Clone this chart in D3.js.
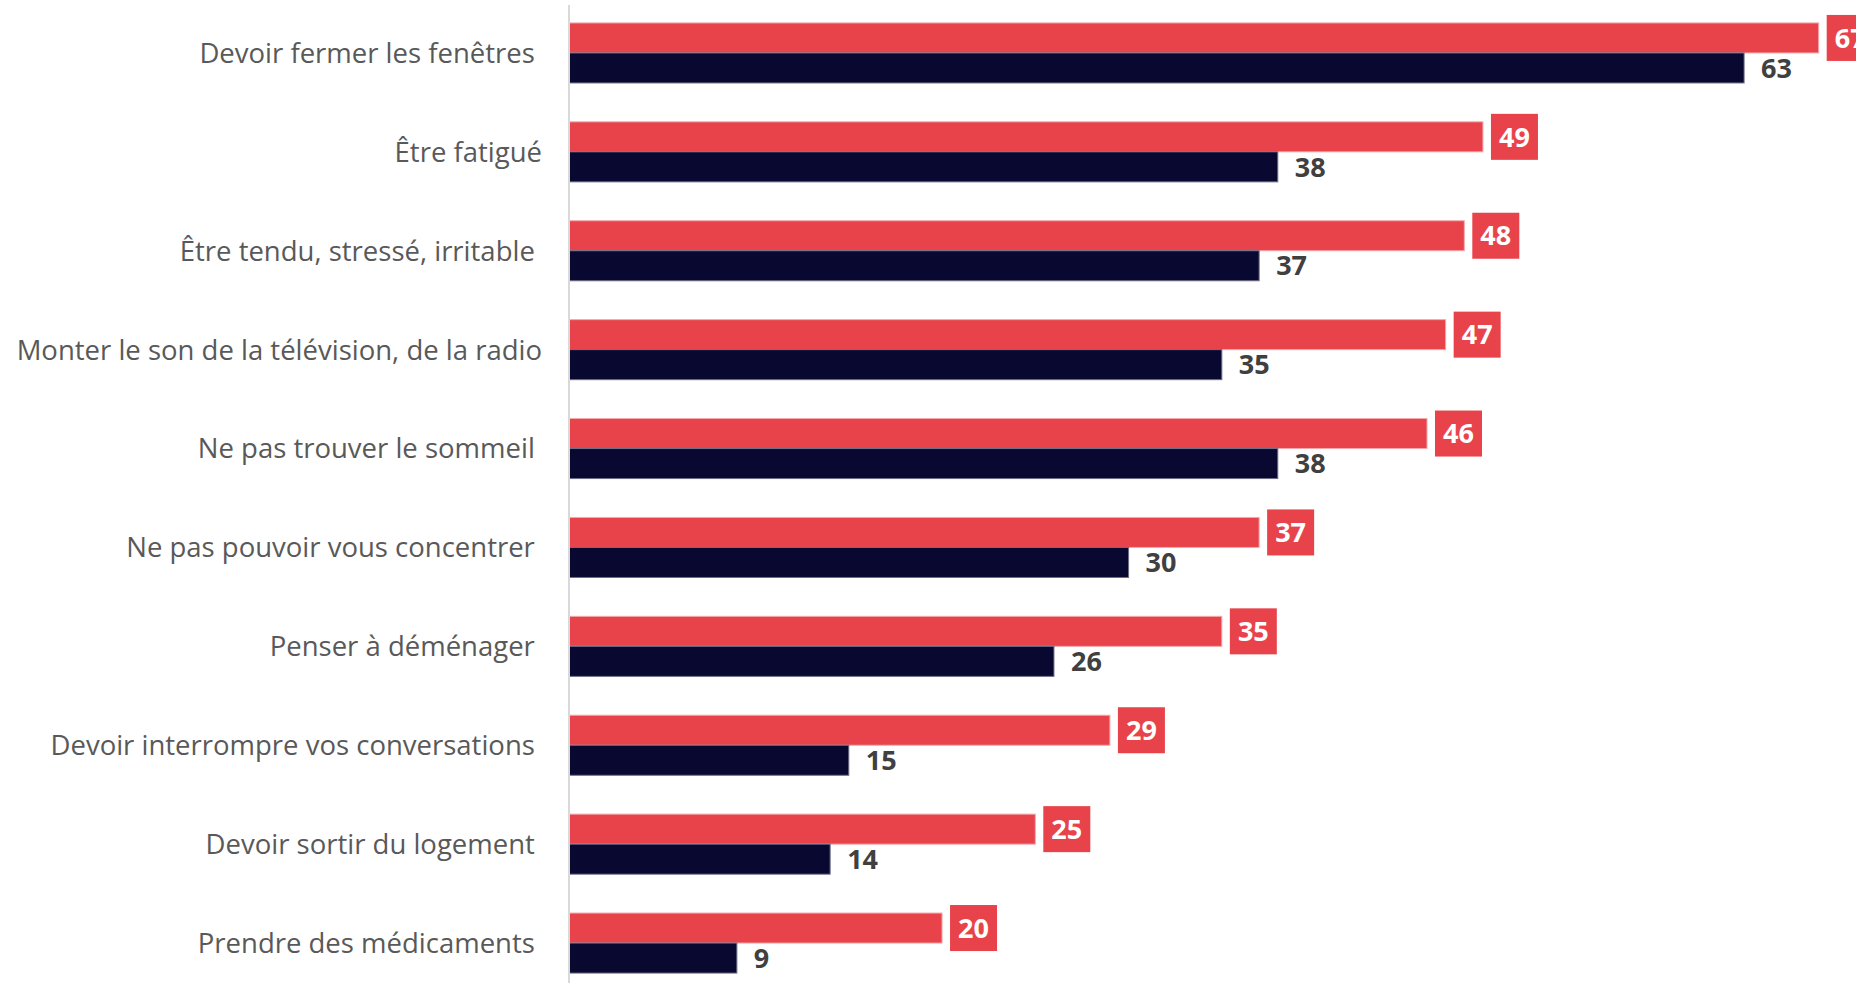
<!DOCTYPE html>
<html>
<head>
<meta charset="utf-8">
<script src="https://cdn.jsdelivr.net/npm/d3@7"></script>
<style>
  html, body { margin: 0; padding: 0; background: #fff; }
  svg { display: block; }
  .cat { white-space: pre; }
</style>
</head>
<body>
<svg id="chart" width="1856" height="983"></svg>
<script>
const categories = [
  "Devoir fermer les fenêtres ",
  "Être fatigué",
  "Être tendu, stressé, irritable ",
  "Monter le son de la télévision, de la radio",
  "Ne pas trouver le sommeil ",
  "Ne pas pouvoir vous concentrer ",
  "Penser à déménager ",
  "Devoir interrompre vos conversations ",
  "Devoir sortir du logement ",
  "Prendre des médicaments "
];
const serieRouge = [67, 49, 48, 47, 46, 37, 35, 29, 25, 20];
const serieBleue = [63, 38, 37, 35, 38, 30, 26, 15, 14, 9];
const seriesNames = ["rouge", "bleue"];

const W = 1856, H = 983;
const svg = d3.select("#chart");

const x = d3.scaleLinear().domain([0, 69]).range([569, 1856]);
const y = d3.scaleBand().domain(categories).range([3.5, 992.5]).paddingInner(0.393).paddingOuter(0.1965);
const ySub = d3.scaleBand().domain(seriesNames).range([0, y.bandwidth()]);

const colors = { rouge: "#E8434A", bleue: "#090830" };
const data = categories.map((c, i) => ({ cat: c, rouge: serieRouge[i], bleue: serieBleue[i] }));

const g = svg.append("g");

const groups = g.selectAll("g.cat-group").data(data).join("g")
  .attr("transform", d => `translate(0,${y(d.cat)})`);

groups.append("rect")
  .attr("x", x(0)).attr("y", ySub("rouge"))
  .attr("width", d => x(d.rouge) - x(0)).attr("height", ySub.bandwidth())
  .attr("fill", colors.rouge).attr("stroke", "#f4a9ac").attr("stroke-width", 1);

groups.append("rect")
  .attr("x", x(0)).attr("y", ySub("bleue"))
  .attr("width", d => x(d.bleue) - x(0)).attr("height", ySub.bandwidth())
  .attr("fill", colors.bleue).attr("stroke", "#6d6d88").attr("stroke-width", 1);

const boxW = 47, boxH = 46;
groups.append("rect")
  .attr("x", d => x(d.rouge) + 8)
  .attr("y", ySub("rouge") + ySub.bandwidth() / 2 - boxH / 2)
  .attr("width", boxW).attr("height", boxH)
  .attr("fill", colors.rouge);

groups.append("text")
  .attr("x", d => x(d.rouge) + 8 + boxW / 2)
  .attr("y", ySub("rouge") + ySub.bandwidth() / 2)
  .attr("text-anchor", "middle").attr("dy", "0.36em")
  .attr("font-family", "'Open Sans', sans-serif").attr("font-weight", 700)
  .attr("font-size", 27).attr("fill", "#ffffff")
  .text(d => d.rouge);

groups.append("text")
  .attr("x", d => x(d.bleue) + 17)
  .attr("y", ySub("bleue") + ySub.bandwidth() / 2)
  .attr("dy", "0.36em")
  .attr("font-family", "'Open Sans', sans-serif").attr("font-weight", 700)
  .attr("font-size", 27).attr("fill", "#404040")
  .text(d => d.bleue);

const axis = d3.axisLeft(y).tickSize(0).tickPadding(27);
const ax = svg.append("g").attr("transform", `translate(${x(0)},0)`).call(axis);
ax.select(".domain").attr("stroke", "#d9d9d9").attr("stroke-width", 2)
  .attr("d", `M0,5V${H}`);
ax.selectAll(".tick text")
  .attr("class", "cat")
  .attr("font-family", "'Open Sans', sans-serif")
  .attr("font-size", 27.5).attr("fill", "#595959")
  .attr("dy", "0.36em");
</script>
</body>
</html>
